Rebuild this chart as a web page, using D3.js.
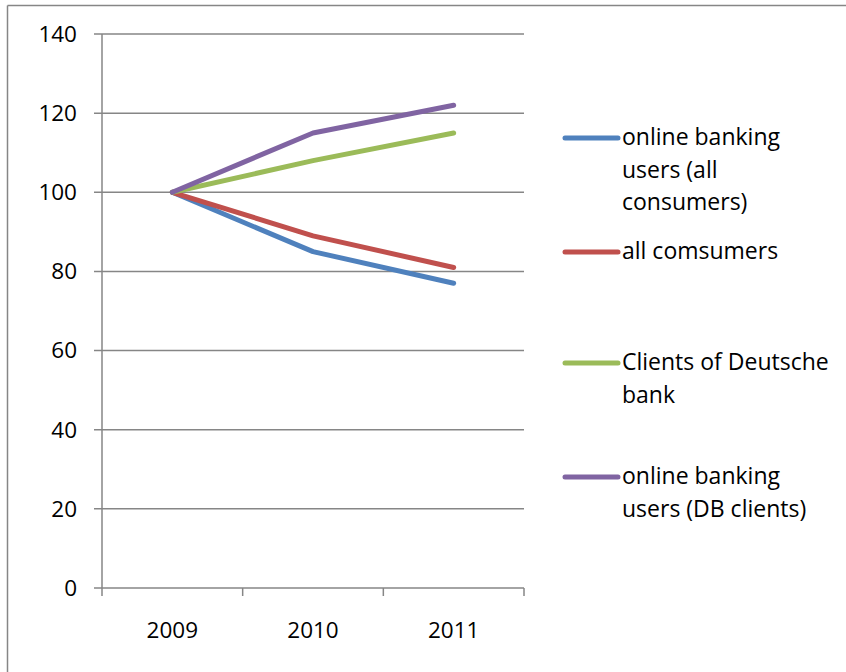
<!DOCTYPE html>
<html>
<head>
<meta charset="utf-8">
<script src="https://cdn.jsdelivr.net/npm/d3@7/dist/d3.min.js"></script>
<style>
  body { margin: 0; background: #fff; }
  svg text { font-family: "Open Sans", "Noto Sans", sans-serif; fill: #000; }
</style>
</head>
<body>
<svg id="chart" width="846" height="672"></svg>
<script>
// chart values
const years = ["2009", "2010", "2011"];
const seriesNames = [
  ["online banking", "users (all", "consumers)"],
  ["all comsumers"],
  ["Clients of Deutsche", "bank"],
  ["online banking", "users (DB clients)"]
];
const onlineAll = [100, 85, 77];
const allConsumers = [100, 89, 81];
const clientsDB = [100, 108, 115];
const onlineDB = [100, 115, 122];
const yTicks = [0, 20, 40, 60, 80, 100, 120, 140];

const seriesValues = [onlineAll, allConsumers, clientsDB, onlineDB];
const colors = ["#4F81BD", "#C0504D", "#9BBB59", "#8064A2"];
const legendY = [138, 252, 363, 477];

const svg = d3.select("#chart");
const gridColor = "#868686";

// outer frame (top and left edges visible)
svg.append("line").attr("x1", 7.5).attr("x2", 846).attr("y1", 5.5).attr("y2", 5.5)
  .attr("stroke", gridColor).attr("stroke-width", 1.5);
svg.append("line").attr("x1", 7.5).attr("x2", 7.5).attr("y1", 5.5).attr("y2", 672)
  .attr("stroke", gridColor).attr("stroke-width", 1.5);

const plotL = 102, plotR = 524, plotT = 34, plotB = 588;

const x = d3.scaleBand().domain(years).range([plotL, plotR]);
const y = d3.scaleLinear().domain([0, 140]).range([plotB, plotT]);

// gridlines
svg.append("g")
  .selectAll("line")
  .data(yTicks)
  .enter()
  .append("line")
  .attr("x1", plotL - 8)
  .attr("x2", plotR)
  .attr("y1", d => y(d))
  .attr("y2", d => y(d))
  .attr("stroke", gridColor)
  .attr("stroke-width", 1.5);

// y axis line
svg.append("line").attr("x1", plotL).attr("x2", plotL).attr("y1", plotT).attr("y2", plotB + 8)
  .attr("stroke", gridColor).attr("stroke-width", 1.5);

// x ticks at band boundaries
const xBounds = years.map(d => x(d)).concat([plotR]);
svg.append("g")
  .selectAll("line")
  .data(xBounds.slice(1))
  .enter()
  .append("line")
  .attr("x1", d => d)
  .attr("x2", d => d)
  .attr("y1", plotB)
  .attr("y2", plotB + 8)
  .attr("stroke", gridColor)
  .attr("stroke-width", 1.5);

// y labels
svg.append("g")
  .selectAll("text")
  .data(yTicks)
  .enter()
  .append("text")
  .attr("x", 77)
  .attr("y", d => y(d))
  .attr("dy", "0.35em")
  .attr("text-anchor", "end")
  .style("font-size", "22.5px")
  .text(d => d);

// x labels
svg.append("g")
  .selectAll("text")
  .data(years)
  .enter()
  .append("text")
  .attr("x", d => x(d) + x.bandwidth() / 2)
  .attr("y", 638)
  .attr("text-anchor", "middle")
  .style("font-size", "22.5px")
  .text(d => d);

// lines
const line = d3.line()
  .x((d, i) => x(years[i]) + x.bandwidth() / 2)
  .y(d => y(d));

svg.append("g")
  .selectAll("path")
  .data(seriesValues)
  .enter()
  .append("path")
  .attr("d", d => line(d))
  .attr("fill", "none")
  .attr("stroke", (d, i) => colors[i])
  .attr("stroke-width", 5)
  .attr("stroke-linecap", "round")
  .attr("stroke-linejoin", "round");

// legend
const legend = svg.append("g")
  .selectAll("g")
  .data(seriesNames)
  .enter()
  .append("g")
  .attr("transform", (d, i) => "translate(0," + legendY[i] + ")");

legend.append("line")
  .attr("x1", 565)
  .attr("x2", 618)
  .attr("y1", 0)
  .attr("y2", 0)
  .attr("stroke", (d, i) => colors[i])
  .attr("stroke-width", 5)
  .attr("stroke-linecap", "round");

legend.append("text")
  .attr("x", 622)
  .attr("y", 7)
  .style("font-size", "23px")
  .selectAll("tspan")
  .data(d => d)
  .enter()
  .append("tspan")
  .attr("x", 622)
  .attr("dy", (d, i) => i === 0 ? 0 : 32.5)
  .text(d => d);
</script>
</body>
</html>
